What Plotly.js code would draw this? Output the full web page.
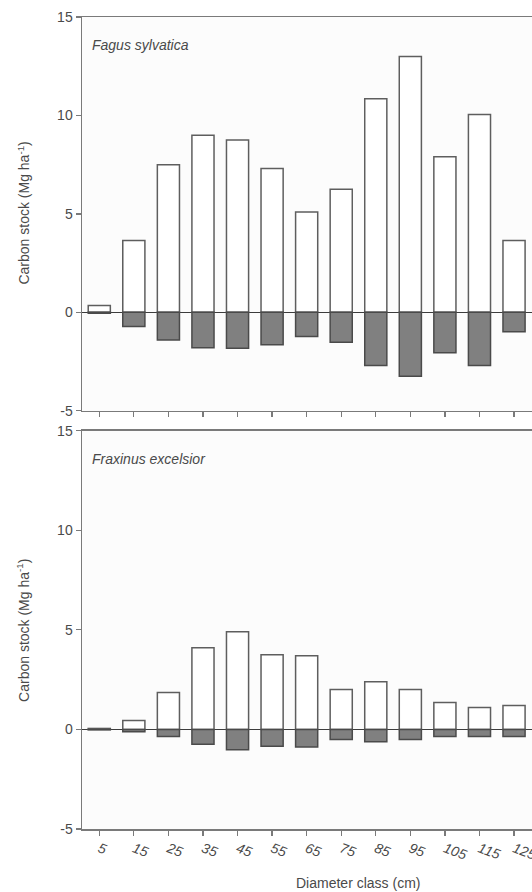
<!DOCTYPE html>
<html>
<head>
<meta charset="utf-8">
<script src="https://cdn.plot.ly/plotly-3.0.1.min.js"></script>
<style>
  html, body { margin: 0; padding: 0; background: #ffffff; }
  #chart { width: 532px; height: 892px; }
</style>
</head>
<body>
<div id="chart"></div>
<script>
// Diameter classes (cm), class midpoints
const diameterClasses = ["5", "15", "25", "35", "45", "55", "65", "75", "85", "95", "105", "115", "125"];

// Fagus sylvatica: carbon stock per diameter class (Mg ha-1)
const fagusGain = [0.35, 3.65, 7.5, 9.0, 8.75, 7.3, 5.1, 6.25, 10.85, 13.0, 7.9, 10.05, 3.65];
const fagusLoss = [-0.05, -0.72, -1.4, -1.8, -1.82, -1.65, -1.22, -1.52, -2.7, -3.25, -2.05, -2.7, -0.98];

// Fraxinus excelsior: carbon stock per diameter class (Mg ha-1)
const fraxinusGain = [0.05, 0.45, 1.85, 4.1, 4.9, 3.75, 3.7, 2.0, 2.4, 2.0, 1.35, 1.1, 1.2];
const fraxinusLoss = [-0.02, -0.12, -0.35, -0.75, -1.02, -0.85, -0.88, -0.5, -0.62, -0.5, -0.35, -0.35, -0.35];

// Y axis ticks
const yTickVals = [-5, 0, 5, 10, 15];
const yTickText = ["-5", "0", "5", "10", "15"];

const axisGrey = "#7a7a7a";
const textGrey = "#4a4a4a";
const barWidth = 0.64;
const fontFamily = "Liberation Sans, Arial, sans-serif";

function gainTrace(values, xa, ya) {
  return {
    type: "bar", x: diameterClasses, y: values, xaxis: xa, yaxis: ya,
    width: barWidth,
    marker: { color: "#ffffff", line: { color: "#5e5e5e", width: 1.5 } },
    hoverinfo: "x+y", showlegend: false
  };
}
function lossTrace(values, xa, ya) {
  return {
    type: "bar", x: diameterClasses, y: values, xaxis: xa, yaxis: ya,
    width: barWidth,
    marker: { color: "#808080", line: { color: "#4a4a4a", width: 1.5 } },
    hoverinfo: "x+y", showlegend: false
  };
}

const data = [
  gainTrace(fagusGain, "x", "y"),
  lossTrace(fagusLoss, "x", "y"),
  gainTrace(fraxinusGain, "x2", "y2"),
  lossTrace(fraxinusLoss, "x2", "y2")
];

function xAxis(showLabels, anchor) {
  return {
    anchor: anchor,
    type: "category",
    range: [-0.5, 12.52],
    showline: true, linecolor: axisGrey, linewidth: 1.5, mirror: true,
    ticks: "outside", ticklen: 5, tickwidth: 1.2, tickcolor: axisGrey,
    showticklabels: showLabels,
    tickangle: 20,
    tickfont: { family: fontFamily, size: 14, color: textGrey, style: "italic" },
    showgrid: false, zeroline: false, fixedrange: true
  };
}
function yAxis(domain, anchor) {
  return {
    domain: domain, anchor: anchor,
    range: [-5, 15],
    tickvals: yTickVals, ticktext: yTickText,
    showline: true, linecolor: axisGrey, linewidth: 1.5,
    ticks: "outside", ticklen: 5, tickwidth: 1.2, tickcolor: axisGrey,
    tickfont: { family: fontFamily, size: 14, color: textGrey },
    showgrid: false,
    zeroline: true, zerolinecolor: "#3c3c3c", zerolinewidth: 1.5,
    fixedrange: true
  };
}

const labelFont = { family: fontFamily, size: 14, color: textGrey };
const speciesFont = { family: fontFamily, size: 14, color: textGrey, style: "italic" };

const layout = {
  width: 532, height: 892,
  margin: { l: 82, r: 0, t: 17, b: 63, pad: 0 },
  paper_bgcolor: "#ffffff",
  plot_bgcolor: "#fcfcfc",
  barmode: "overlay",
  xaxis: xAxis(false, "y"),
  yaxis: yAxis([0.515, 1], "x"),
  xaxis2: xAxis(true, "y2"),
  yaxis2: yAxis([0, 0.4905], "x2"),
  annotations: [
    { text: "Fagus sylvatica", xref: "paper", yref: "paper", x: 0.018, y: 0.966,
      xanchor: "left", yanchor: "middle", showarrow: false, font: speciesFont },
    { text: "Fraxinus excelsior", xref: "paper", yref: "paper", x: 0.018, y: 0.456,
      xanchor: "left", yanchor: "middle", showarrow: false, font: speciesFont },
    { text: "Carbon stock (Mg ha<sup>-1</sup>)", xref: "paper", yref: "paper", x: -0.131, y: 0.758,
      xanchor: "center", yanchor: "middle", textangle: -90, showarrow: false, font: labelFont },
    { text: "Carbon stock (Mg ha<sup>-1</sup>)", xref: "paper", yref: "paper", x: -0.131, y: 0.244,
      xanchor: "center", yanchor: "middle", textangle: -90, showarrow: false, font: labelFont },
    { text: "Diameter class (cm)", xref: "paper", yref: "paper", x: 0.613, y: -0.0665,
      xanchor: "center", yanchor: "middle", showarrow: false, font: labelFont }
  ]
};

Plotly.newPlot("chart", data, layout, { displayModeBar: false, staticPlot: true });
</script>
</body>
</html>
